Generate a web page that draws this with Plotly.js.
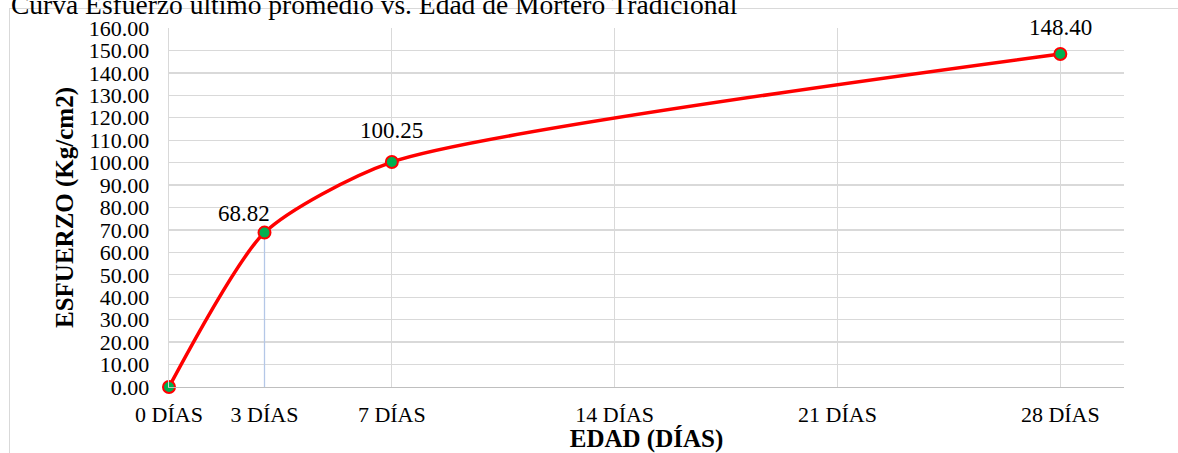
<!DOCTYPE html>
<html>
<head>
<meta charset="utf-8">
<script src="https://cdn.plot.ly/plotly-3.0.1.min.js"></script>
<style>
  html, body { margin: 0; padding: 0; background: #ffffff; }
  #wrap { position: relative; width: 1178px; height: 453px; overflow: hidden; }
  #frame { position: absolute; left: 9px; top: 8px; width: 1300px; height: 600px;
           border-left: 1.3px solid #d9d9d9; border-top: 1.3px solid #d9d9d9; }
  #chart { position: absolute; left: 0; top: 0; width: 1178px; height: 453px; }
</style>
</head>
<body>
<div id="wrap">
  <div id="frame"></div>
  <div id="chart"></div>
</div>
<script>
// ---- data ----
const days = [0, 3, 7, 14, 21, 28];
const strength = [0.00, 68.82, 100.25, null, null, 148.40];
const tickLabels = ["0 DÍAS", "3 DÍAS", "7 DÍAS", "14 DÍAS", "21 DÍAS", "28 DÍAS"];
const chartTitle = "Curva Esfuerzo último promedio vs. Edad de Mortero Tradicional";
const xTitle = "EDAD (DÍAS)";
const yTitle = "ESFUERZO (Kg/cm2)";
const gridDays = [7, 14, 21, 28];
// per-label pixel nudges (style only)
const labelShift = { 1: [-21, 19], 2: [0, 32], 5: [0, 27] };

const px = [], py = [];
days.forEach((d, i) => { if (strength[i] !== null) { px.push(d); py.push(strength[i]); } });

const FONT = "Liberation Serif, Times New Roman, serif";

const dropLine = {
  x: [days[1], days[1]], y: [0, strength[1]],
  mode: "lines", line: { color: "#b4c7e7", width: 1.3 },
  hoverinfo: "skip", showlegend: false
};
const curve = {
  x: px, y: py, mode: "lines+markers",
  line: { color: "#ff0000", width: 3.5, shape: "spline", smoothing: 0.65 },
  marker: { size: 12, color: "#00b050", line: { color: "#ff0000", width: 2 } },
  showlegend: false, cliponaxis: false
};

const annotations = [];
days.forEach((d, i) => {
  const v = strength[i];
  if (v === null || v === 0) return;
  const s = labelShift[i] || [0, 25];
  annotations.push({
    x: d, y: v, xref: "x", yref: "y", text: v.toFixed(2), showarrow: false,
    xanchor: "center", yanchor: "middle", xshift: s[0], yshift: s[1],
    font: { family: FONT, size: 23, color: "#000000" }
  });
});

const layout = {
  width: 1178, height: 453,
  margin: { l: 169, r: 54, t: 28, b: 66, pad: 0 },
  paper_bgcolor: "rgba(0,0,0,0)", plot_bgcolor: "rgba(0,0,0,0)",
  font: { family: FONT, color: "#000000" },
  title: {
    text: chartTitle, xref: "container", x: 11 / 1178, xanchor: "left",
    yref: "container", y: 0.991, yanchor: "middle",
    font: { family: FONT, size: 27.5, color: "#000000" }
  },
  xaxis: {
    range: [0, 30], tickmode: "array", tickvals: days, ticktext: tickLabels,
    showgrid: false, zeroline: false, showline: true, linecolor: "#bfbfbf", linewidth: 1.3,
    ticks: "", ticklabelstandoff: 7,
    tickfont: { family: FONT, size: 22, color: "#000000" },
    minor: { tickvals: gridDays, showgrid: true, gridcolor: "#d9d9d9", gridwidth: 1.3, ticks: "" },
    title: { text: xTitle, standoff: 0, font: { family: FONT, size: 25, color: "#000000", weight: "bold" } }
  },
  yaxis: {
    range: [0, 160], dtick: 10, tick0: 0, tickformat: ".2f",
    showgrid: true, gridcolor: "#d9d9d9", gridwidth: 1.3,
    zeroline: false, showline: true, linecolor: "#d9d9d9", linewidth: 1.3,
    ticks: "", ticklabelstandoff: 14,
    tickfont: { family: FONT, size: 22, color: "#000000" },
    title: { text: yTitle, standoff: 8, font: { family: FONT, size: 25, color: "#000000", weight: "bold" } }
  },
  annotations: annotations
};

Plotly.newPlot("chart", [dropLine, curve], layout, { displayModeBar: false, staticPlot: true });
</script>
</body>
</html>
